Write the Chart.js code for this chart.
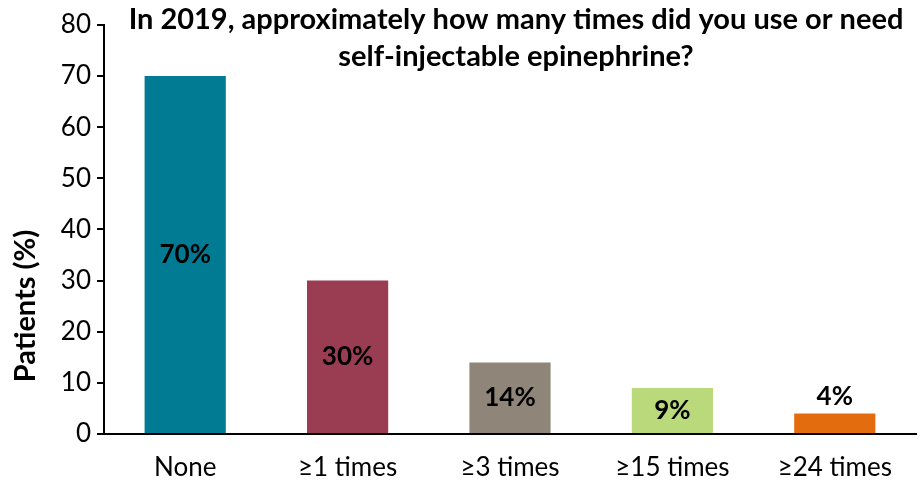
<!DOCTYPE html>
<html>
<head>
<meta charset="utf-8">
<script src="https://cdn.jsdelivr.net/npm/chart.js@4/dist/chart.umd.min.js"></script>
<style>
  html, body { margin: 0; padding: 0; background: #fff; }
</style>
</head>
<body>
<canvas id="c" width="920" height="484"></canvas>
<script>
const CATEGORIES = ['None', '≥1 times', '≥3 times', '≥15 times', '≥24 times'];
const PATIENTS = [70, 30, 14, 9, 4];
const BAR_COLORS = ['#017A94', '#9A3D53', '#8F8579', '#B9D97B', '#E36C0E'];
const TITLE_LINES = ['In 2019, approximately how many times did you use or need', 'self-injectable epinephrine?'];
const Y_TITLE = 'Patients (%)';

const FONT = 'Lato, "Open Sans", sans-serif';

// value labels: inside the bar at mid height, above it when the bar is short
const valueLabels = {
  id: 'valueLabels',
  afterDatasetsDraw(chart) {
    const ctx = chart.ctx;
    const meta = chart.getDatasetMeta(0);
    ctx.save();
    ctx.font = `bold 26px ${FONT}`;
    ctx.fillStyle = '#000';
    ctx.textAlign = 'center';
    ctx.textBaseline = 'middle';
    meta.data.forEach((bar, i) => {
      const v = PATIENTS[i];
      const y = v < 5 ? bar.y - 17 : (bar.y + bar.base) / 2;
      ctx.fillText(v + '%', bar.x, y);
    });
    ctx.restore();
  }
};

// title sits over the plot area, y axis title is offset downward
const texts = {
  id: 'texts',
  afterDraw(chart) {
    const ctx = chart.ctx;
    ctx.save();
    ctx.fillStyle = '#000';
    ctx.textAlign = 'center';
    ctx.textBaseline = 'middle';
    ctx.font = `bold 29px ${FONT}`;
    ctx.fillText(TITLE_LINES[0], 516, 20);
    ctx.fillText(TITLE_LINES[1], 516, 57);
    ctx.translate(26, 306);
    ctx.rotate(-Math.PI / 2);
    ctx.font = `bold 29px ${FONT}`;
    ctx.fillText(Y_TITLE, 0, 0);
    ctx.restore();
  }
};

new Chart(document.getElementById('c'), {
  type: 'bar',
  data: {
    labels: CATEGORIES,
    datasets: [{
      data: PATIENTS,
      backgroundColor: BAR_COLORS,
      barPercentage: 0.5,
      categoryPercentage: 1.0
    }]
  },
  options: {
    responsive: false,
    animation: false,
    devicePixelRatio: 1,
    layout: { padding: { top: 20, right: 4, left: 0, bottom: 0 } },
    plugins: { legend: { display: false }, tooltip: { enabled: false } },
    scales: {
      x: {
        grid: { display: false, drawTicks: false },
        border: { color: '#000', width: 2 },
        ticks: { color: '#000', font: { family: FONT, size: 26 }, padding: 18 },
        afterFit: (s) => { s.height = 50; }
      },
      y: {
        min: 0, max: 80,
        grid: { drawOnChartArea: false, drawTicks: true, tickLength: 7, color: '#000', lineWidth: 2 },
        border: { color: '#000', width: 2 },
        ticks: { stepSize: 10, color: '#000', font: { family: FONT, size: 26, lineHeight: 1.46 }, padding: 6 },
        afterFit: (s) => { s.width = 104; }
      }
    }
  },
  plugins: [valueLabels, texts]
});
</script>
</body>
</html>
